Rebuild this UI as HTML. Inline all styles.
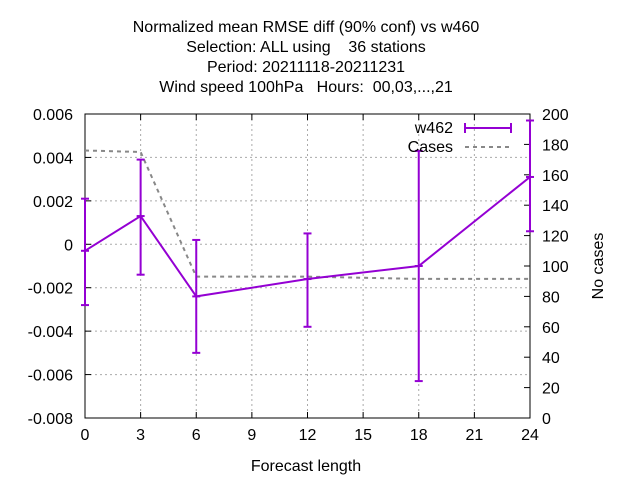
<!DOCTYPE html>
<html><head><meta charset="utf-8"><style>
body{margin:0;background:#fff;}
svg{display:block;font-family:"Liberation Sans",sans-serif;}
</style></head><body>
<svg id="chart" width="640" height="480">
<g id="grid"></g>
<g id="axes"></g>
<g id="series"></g>
<g font-size="16" text-anchor="middle" fill="#000">
<text x="306" y="32">Normalized mean RMSE diff (90% conf) vs w460</text>
<text x="306" y="52" xml:space="preserve">Selection: ALL using    36 stations</text>
<text x="306" y="72">Period: 20211118-20211231</text>
<text x="306" y="92" xml:space="preserve">Wind speed 100hPa   Hours:  00,03,...,21</text>
</g>
<text x="306" y="471" font-size="16" text-anchor="middle">Forecast length</text>
<text transform="translate(603,266) rotate(-90)" font-size="16" text-anchor="middle">No cases</text>
<g font-size="16">
<text x="453" y="133" text-anchor="end">w462</text>
<line x1="465" y1="128" x2="511" y2="128" stroke="#9400d3" stroke-width="2"/>
<line x1="465" y1="123" x2="465" y2="133" stroke="#9400d3" stroke-width="2"/>
<line x1="511" y1="123" x2="511" y2="133" stroke="#9400d3" stroke-width="2"/>
<text x="453" y="152" text-anchor="end">Cases</text>
<line x1="465" y1="147" x2="511" y2="147" stroke="#888" stroke-width="2" stroke-dasharray="4,4"/>
</g>
</svg>
<script>
const xs=[0,3,6,12,18,24];
const w462=[-0.0003,0.0013,-0.0024,-0.0016,-0.0010,0.0031];
const errHi=[0.0021,0.0039,0.0002,0.0005,0.0043,0.0057];
const errLo=[-0.0028,-0.0014,-0.0050,-0.0038,-0.0063,0.0006];
const cases=[176,175,93,93,91.5,91.5];
const xTicks=[0,3,6,9,12,15,18,21,24];
const yTicks=[-0.008,-0.006,-0.004,-0.002,0,0.002,0.004,0.006];
const y2Ticks=[0,20,40,60,80,100,120,140,160,180,200];
const L=85,R=530,T=114,B=418;
const X=v=>L+(v-0)/24*(R-L);
const Y=v=>B-(v+0.008)/0.014*(B-T);
const Y2=v=>B-v/200*(B-T);
const NS="http://www.w3.org/2000/svg";
function mk(p,tag,a){const e=document.createElementNS(NS,tag);for(const k in a)e.setAttribute(k,a[k]);p.appendChild(e);return e;}
const grid=document.getElementById('grid'),axes=document.getElementById('axes'),ser=document.getElementById('series');
xTicks.forEach(t=>{
 const g=mk(grid,'line',{x1:X(t),x2:X(t),y1:T,y2:B,stroke:'#aaa','stroke-dasharray':'2,3','stroke-width':1});
 
 
 mk(axes,'line',{x1:X(t),x2:X(t),y1:B,y2:B-6,stroke:'#000'});
 mk(axes,'line',{x1:X(t),x2:X(t),y1:T,y2:T+6,stroke:'#000'});
 const l=mk(axes,'text',{x:X(t),y:B+22,'font-size':16,'text-anchor':'middle'});l.textContent=t;
 
 
});
yTicks.forEach(t=>{
 const g=mk(grid,'line',{x1:L,x2:R,y1:Y(t),y2:Y(t),stroke:'#aaa','stroke-dasharray':'2,3','stroke-width':1});
 
 
 mk(axes,'line',{x1:L,x2:L+6,y1:Y(t),y2:Y(t),stroke:'#000'});
 const l=mk(axes,'text',{x:L-12,y:Y(t)+6,'font-size':16,'text-anchor':'end'});l.textContent=t===0?'0':t.toFixed(3);
 
 
});
y2Ticks.forEach(t=>{
 mk(axes,'line',{x1:R,x2:R-6,y1:Y2(t),y2:Y2(t),stroke:'#000'});
 const l=mk(axes,'text',{x:R+12,y:Y2(t)+6,'font-size':16});l.textContent=t;
 
 
});
const fr=mk(axes,'rect',{x:L,y:T,width:R-L,height:B-T,fill:'none',stroke:'#000'});


const cl=mk(ser,'polyline',{points:xs.map((x,i)=>X(x)+','+Y2(cases[i])).join(' '),fill:'none',stroke:'#888','stroke-width':2,'stroke-dasharray':'4,4'});


const wl=mk(ser,'polyline',{points:xs.map((x,i)=>X(x)+','+Y(w462[i])).join(' '),fill:'none',stroke:'#9400d3','stroke-width':2});


xs.forEach((x,i)=>{
 const g=mk(ser,'g',{stroke:'#9400d3','stroke-width':2});
 
 
 mk(g,'line',{x1:X(x),x2:X(x),y1:Y(errHi[i]),y2:Y(errLo[i])});
 mk(g,'line',{x1:X(x)-4,x2:X(x)+4,y1:Y(errHi[i]),y2:Y(errHi[i])});
 mk(g,'line',{x1:X(x)-4,x2:X(x)+4,y1:Y(errLo[i]),y2:Y(errLo[i])});
 mk(g,'line',{x1:X(x)-4,x2:X(x)+4,y1:Y(w462[i]),y2:Y(w462[i])});
});
</script>
</body></html>
